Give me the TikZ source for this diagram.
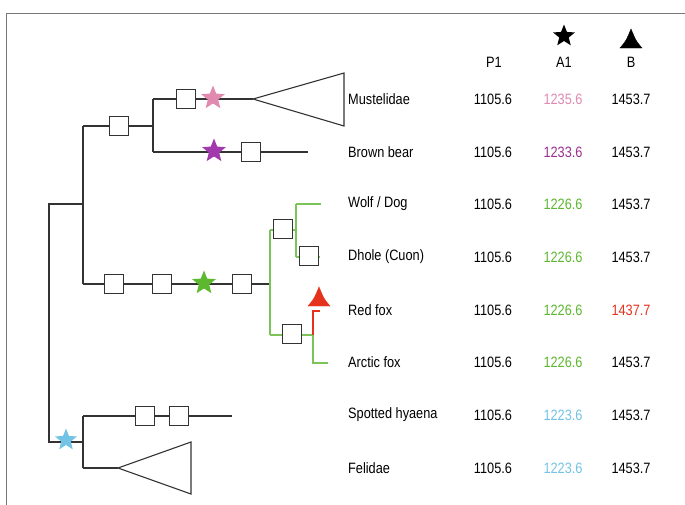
\documentclass[tikz,border=0pt]{standalone}
\usepackage{fontspec}
\setmainfont{Liberation Sans}[FakeStretch=0.85]
\usetikzlibrary{shapes.geometric}

\definecolor{branch}{HTML}{333333}
\definecolor{framegray}{HTML}{777777}
\definecolor{pinkA}{HTML}{E08AB0}
\definecolor{purpleA}{HTML}{A23AAE}
\definecolor{purpleT}{HTML}{9B2F8F}
\definecolor{greenS}{HTML}{5CB82E}
\definecolor{greenL}{HTML}{7CC45A}
\definecolor{blueA}{HTML}{72C3E6}
\definecolor{redA}{HTML}{E5321C}

\tikzset{
  br/.style={draw=branch, line width=1.1pt},
  gbr/.style={draw=greenL, line width=1.1pt},
  rbr/.style={draw=redA, line width=1.1pt},
  mbox/.style={draw=branch, fill=white, line width=0.9pt, minimum size=19pt, inner sep=0pt},
  evstar/.style={star, star points=5, star point ratio=2.3, minimum size=25pt, inner sep=0pt, draw=none},
  taxon/.style={anchor=west, inner sep=0pt, font=\fontsize{15}{17}\selectfont},
  val/.style={anchor=center, inner sep=0pt, font=\fontsize{15}{17}\selectfont},
}

\begin{document}
\begin{tikzpicture}[x=1pt, y=-1pt]
\useasboundingbox (0,0) rectangle (685,504);
\fill[white] (0,0) rectangle (685,504);
% frame
\draw[framegray, line width=1pt] (6,520) -- (6,13) -- (700,13);

% internal vertices of the tree
\coordinate (r1) at (49,204);
\coordinate (r2) at (49,442);
\coordinate (a)  at (83,204);
\coordinate (a1) at (83,126);
\coordinate (a2) at (83,284);
\coordinate (b1) at (153,99);
\coordinate (b2) at (153,152);
\coordinate (b)  at (153,126);
\coordinate (mus) at (253,99);
\coordinate (bear) at (308,152);
\coordinate (c)  at (270,284);
\coordinate (c1) at (270,230);
\coordinate (c2) at (270,335);
\coordinate (d1) at (296,204);
\coordinate (d2) at (296,257);
\coordinate (dm) at (296,230);
\coordinate (wolf) at (321,204);
\coordinate (dhole) at (320,257);
\coordinate (e1) at (313,311);
\coordinate (e)  at (313,335);
\coordinate (e2) at (313,363);
\coordinate (redfox) at (320,311);
\coordinate (arctic) at (328,363);
\coordinate (f)  at (83,442);
\coordinate (f1) at (83,416);
\coordinate (f2) at (83,468);
\coordinate (hyaena) at (232,416);
\coordinate (fel) at (118,468);

% black branches
\draw[br] (a) -- (r1) -- (r2) -- (f);
\draw[br] (a1) -- (a2);
\draw[br] (a1) -- (b);
\draw[br] (b1) -- (b2);
\draw[br] (b1) -- (mus);
\draw[br] (b2) -- (bear);
\draw[br] (a2) -- (c);
\draw[br] (f1) -- (f2);
\draw[br] (f1) -- (hyaena);
\draw[br] (f2) -- (fel);
% collapsed clades
\draw[br, line join=miter] (mus) -- (344,73) -- (344,126) -- cycle;
\draw[br, line join=miter] (fel) -- (191,442) -- (191,494) -- cycle;

% canid clade
\draw[gbr] (c1) -- (c2);
\draw[gbr] (c1) -- (dm);
\draw[gbr] (d1) -- (d2);
\draw[gbr] (d1) -- (wolf);
\draw[gbr] (d2) -- (dhole);
\draw[gbr] (c2) -- (e);
\draw[gbr] (e) -- (e2) -- (arctic);
\draw[rbr] (e) -- (e1) -- (redfox);

% boxes on branches
\node[mbox] (bx1) at (119,126) {};
\node[mbox] (bx2) at (186,99) {};
\node[mbox] (bx3) at (251,152) {};
\node[mbox] (bx4) at (114,284) {};
\node[mbox] (bx5) at (162,284) {};
\node[mbox] (bx6) at (242,284) {};
\node[mbox] (bx7) at (283,229) {};
\node[mbox] (bx8) at (309,256) {};
\node[mbox] (bx9) at (292,334) {};
\node[mbox] (bx10) at (145,416) {};
\node[mbox] (bx11) at (179,416) {};

% stars
\node[evstar, fill=pinkA] (s1) at (213,98) {};
\node[evstar, fill=purpleA] (s2) at (214,151) {};
\node[evstar, fill=greenS] (s3) at (204,283) {};
\node[evstar, fill=blueA, minimum size=23pt] (s4) at (66,440) {};
\draw[redA, fill=redA] (308,306) .. controls (314,299) .. (319,287) .. controls (324,299) .. (330,306) -- cycle;

% header
\node[evstar, fill=black, minimum size=23pt] (hs) at (564,36) {};
\draw[black, fill=black] (620,48) .. controls (626,41) .. (631,29) .. controls (636,41) .. (642,48) -- cycle;
\node[val] (hp) at (494,62) {P1};
\node[val] (ha) at (564,62) {A1};
\node[val] (hb) at (631,62) {B};

% taxa and values
\foreach \y/\name/\ca/\va/\cb/\vb [count=\i] in {
  99/{Mustelidae}/pinkA/1235.6/black/1453.7,
  152/{Brown bear}/purpleT/1233.6/black/1453.7,
  204/{Wolf / Dog}/greenS/1226.6/black/1453.7,
  257/{Dhole (Cuon)}/greenS/1226.6/black/1453.7,
  310/{Red fox}/greenS/1226.6/redA/1437.7,
  362/{Arctic fox}/greenS/1226.6/black/1453.7,
  415/{Spotted hyaena}/blueA/1223.6/black/1453.7,
  468/{Felidae}/blueA/1223.6/black/1453.7} {
  \node[taxon] (t\i) at (348,\y) {\name};
  \node[val] (p\i) at (493,\y) {1105.6};
  \node[val, text=\ca] (v\i) at (563,\y) {\va};
  \node[val, text=\cb] (w\i) at (631,\y) {\vb};
}
\end{tikzpicture}
\end{document}
